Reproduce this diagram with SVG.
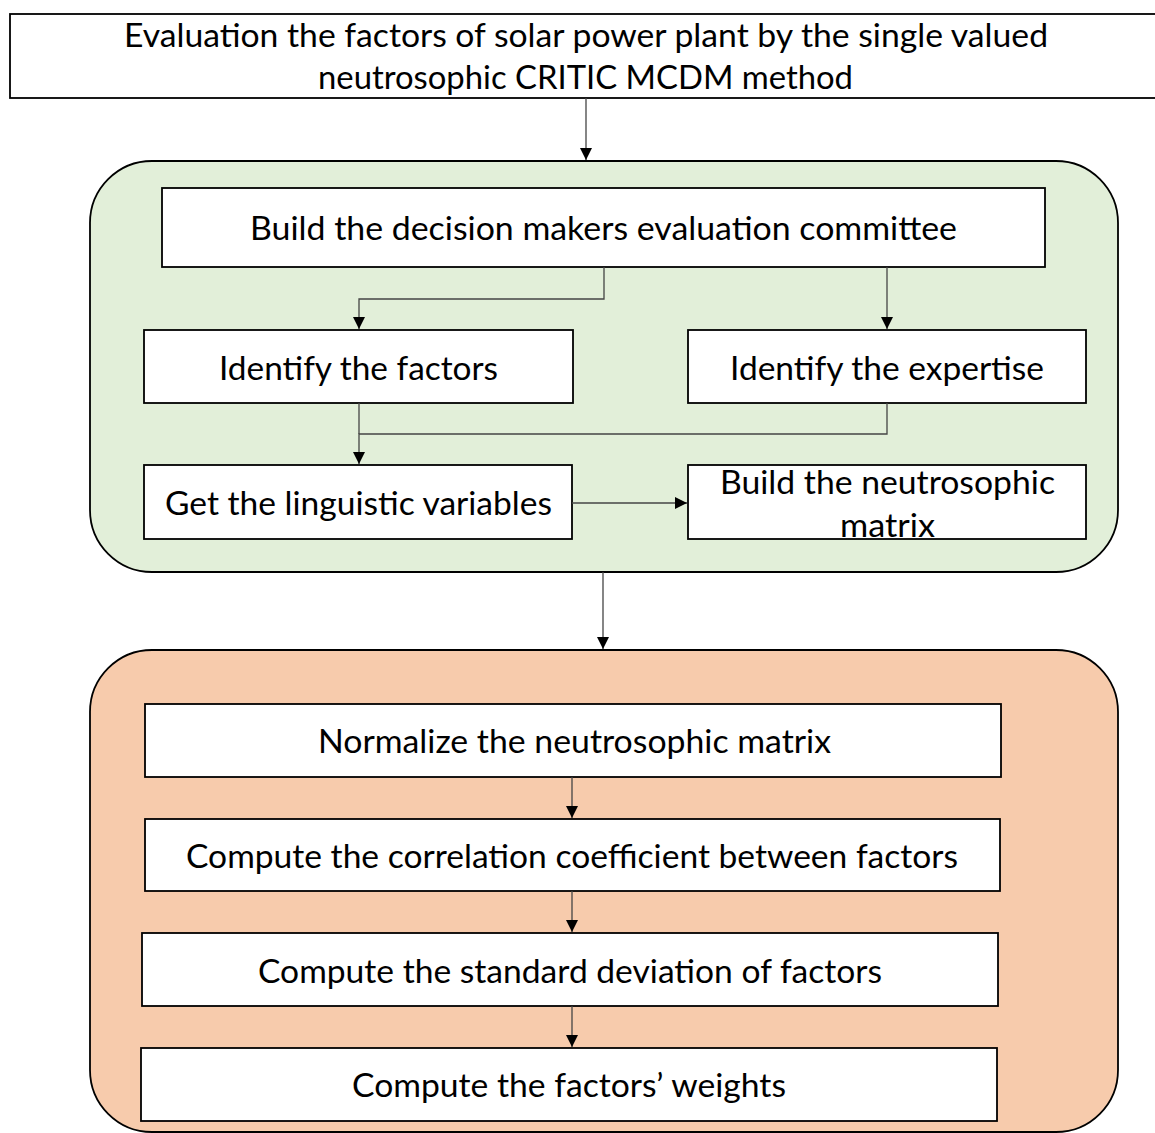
<svg xmlns="http://www.w3.org/2000/svg" width="1155" height="1133" viewBox="0 0 1155 1133">
<style>
.box{fill:#fff;stroke:#000;stroke-width:1.8}
.t{font-family:Lato,"Open Sans","Liberation Sans",sans-serif;font-size:33px;fill:#000;text-anchor:middle}
.c{fill:none;stroke:#444;stroke-width:1.3}
</style>
<defs>
<marker id="ah" markerWidth="12" markerHeight="12" refX="10" refY="5" orient="auto" markerUnits="userSpaceOnUse" viewBox="0 0 10 10">
<path d="M0,0 L10,5 L0,10 Z" fill="#000"/>
</marker>
</defs>
<rect width="1155" height="1133" fill="#fff"/>
<g id="title">
<rect class="box" x="10" y="14" width="1160" height="84"/>
<text class="t" x="586" y="47" textLength="924" lengthAdjust="spacingAndGlyphs">Evaluation the factors of solar power plant by the single valued</text>
<text class="t" x="585.5" y="89" textLength="535" lengthAdjust="spacingAndGlyphs">neutrosophic CRITIC MCDM method</text>
</g>
<g id="green-group">
<rect x="90" y="161" width="1028" height="411" rx="62" ry="62" fill="#e2efd9" stroke="#000" stroke-width="1.8"/>
</g>
<g id="orange-group">
<rect x="90" y="650" width="1028" height="482" rx="62" ry="62" fill="#f7cbac" stroke="#000" stroke-width="1.8"/>
</g>
<g id="build-committee">
<rect class="box" x="162" y="188" width="883" height="79"/>
<text class="t" x="603.5" y="240" textLength="707" lengthAdjust="spacingAndGlyphs">Build the decision makers evaluation committee</text>
</g>
<g id="identify-factors">
<rect class="box" x="144" y="330" width="429" height="73"/>
<text class="t" x="358.5" y="380" textLength="279" lengthAdjust="spacingAndGlyphs">Identify the factors</text>
</g>
<g id="identify-expertise">
<rect class="box" x="688" y="330" width="398" height="73"/>
<text class="t" x="887" y="380" textLength="314" lengthAdjust="spacingAndGlyphs">Identify the expertise</text>
</g>
<g id="linguistic">
<rect class="box" x="144" y="465" width="428" height="74"/>
<text class="t" x="358.5" y="515" textLength="387" lengthAdjust="spacingAndGlyphs">Get the linguistic variables</text>
</g>
<g id="neutro-matrix">
<rect class="box" x="688" y="465" width="398" height="74"/>
<text class="t" x="887.5" y="494" textLength="335" lengthAdjust="spacingAndGlyphs">Build the neutrosophic</text>
<text class="t" x="887.5" y="537" textLength="95" lengthAdjust="spacingAndGlyphs">matrix</text>
</g>
<g id="normalize">
<rect class="box" x="145" y="704" width="856" height="73"/>
<text class="t" x="574.5" y="753" textLength="513" lengthAdjust="spacingAndGlyphs">Normalize the neutrosophic matrix</text>
</g>
<g id="correlation">
<rect class="box" x="145" y="819" width="855" height="72"/>
<text class="t" x="572" y="868" textLength="772" lengthAdjust="spacingAndGlyphs">Compute the correlation coefficient between factors</text>
</g>
<g id="stddev">
<rect class="box" x="142" y="933" width="856" height="73"/>
<text class="t" x="570" y="983" textLength="624" lengthAdjust="spacingAndGlyphs">Compute the standard deviation of factors</text>
</g>
<g id="weights">
<rect class="box" x="141" y="1048" width="856" height="73"/>
<text class="t" x="569" y="1097" textLength="434" lengthAdjust="spacingAndGlyphs">Compute the factors’ weights</text>
</g>
<g id="connectors">
<path class="c" d="M586,98 V160" marker-end="url(#ah)"/>
<path class="c" d="M604,267 V299 H359 V329" marker-end="url(#ah)"/>
<path class="c" d="M887,267 V329" marker-end="url(#ah)"/>
<path class="c" d="M359,403 V434"/>
<path class="c" d="M887,403 V434 H359 V464" marker-end="url(#ah)"/>
<path class="c" d="M572,503 H687" marker-end="url(#ah)"/>
<path class="c" d="M603,572 V649" marker-end="url(#ah)"/>
<path class="c" d="M572,777 V818" marker-end="url(#ah)"/>
<path class="c" d="M572,891 V932" marker-end="url(#ah)"/>
<path class="c" d="M572,1006 V1047" marker-end="url(#ah)"/>
</g>
</svg>
